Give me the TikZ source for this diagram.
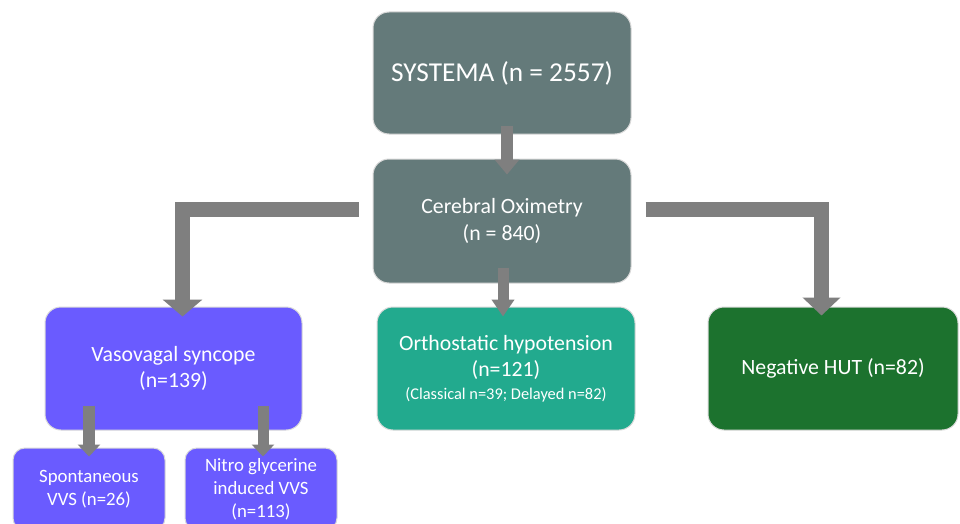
\documentclass[tikz,border=0pt]{standalone}
\usepackage{fontspec}
\setmainfont{Carlito}
\usetikzlibrary{arrows.meta}
\definecolor{slate}{HTML}{647A7A}
\definecolor{vvs}{HTML}{6A5BFF}
\definecolor{ohteal}{HTML}{22AA8E}
\definecolor{negreen}{HTML}{1C722E}
\definecolor{arrowgray}{HTML}{7F7F7F}
\tikzset{
  box/.style={rounded corners=16pt, draw=gray!30, line width=1pt, text=white, align=center, inner sep=0pt},
  bigtxt/.style={font=\fontsize{27.3}{32}\selectfont},
  midtxt/.style={font=\fontsize{21.8}{26.5}\selectfont},
  smalltxt/.style={font=\fontsize{18.8}{23}\selectfont},
  blockarrow/.style={draw=arrowgray, line join=miter, line cap=butt},
}
\begin{document}
\begin{tikzpicture}[x=1pt,y=-1pt]
\clip (0,0) rectangle (960,524);
\fill[white] (0,0) rectangle (960,524);
% boxes
\node[box, fill=slate, minimum width=258pt, minimum height=122pt, bigtxt] (sys) at (502,73) {SYSTEMA (n = 2557)};
\node[box, fill=slate, minimum width=258pt, minimum height=124pt, midtxt] (cer) at (502,221) {Cerebral Oximetry\\(n = 840)};
\node[box, fill=vvs, minimum width=257pt, minimum height=123pt, midtxt] (vaso) at (173.5,368.5) {Vasovagal syncope\\(n=139)};
\node[box, fill=ohteal, minimum width=258pt, minimum height=123pt, midtxt] (orth) at (506,368.5) {Orthostatic hypotension\\(n=121)\\[-4pt]{\fontsize{16.4}{19}\selectfont (Classical n=39; Delayed n=82)}};
\node[box, fill=negreen, minimum width=250pt, minimum height=123pt, midtxt] (neg) at (833,368.5) {Negative HUT (n=82)};
\node[box, fill=vvs, minimum width=152pt, minimum height=82pt, rounded corners=12pt, smalltxt] (spon) at (89,489) {Spontaneous\\VVS (n=26)};
\node[box, fill=vvs, minimum width=152pt, minimum height=82pt, rounded corners=12pt, smalltxt] (nitro) at (261,489) {Nitro glycerine\\induced VVS\\(n=113)};
% arrows
\draw[blockarrow, line width=12pt, -{Triangle[width=24pt,length=15pt]}]
  ([xshift=5pt,yshift=9pt]sys.south) -- ([xshift=5pt,yshift=-16pt]cer.north);
\draw[blockarrow, line width=11pt, -{Triangle[width=22pt,length=17pt]}]
  ([xshift=1pt,yshift=16pt]cer.south) -- ([xshift=-3pt,yshift=-10pt]orth.north);
\draw[blockarrow, line width=15pt, -{Triangle[width=39pt,length=17pt]}]
  ([xshift=-14pt,yshift=11.5pt]cer.west) -| ([xshift=9pt,yshift=-10pt]vaso.north);
\draw[blockarrow, line width=15pt, -{Triangle[width=37pt,length=18pt]}]
  ([xshift=14pt,yshift=11.5pt]cer.east) -| ([xshift=-11.5pt,yshift=-9pt]neg.north);
\draw[blockarrow, line width=12pt, -{Triangle[width=22pt,length=12pt]}]
  ([xshift=-84.5pt,yshift=25pt]vaso.south) -- ([yshift=-9pt]spon.north);
\draw[blockarrow, line width=11pt, -{Triangle[width=22pt,length=12pt]}]
  ([xshift=89.5pt,yshift=25pt]vaso.south) -- ([xshift=2pt,yshift=-9pt]nitro.north);
\end{tikzpicture}
\end{document}
